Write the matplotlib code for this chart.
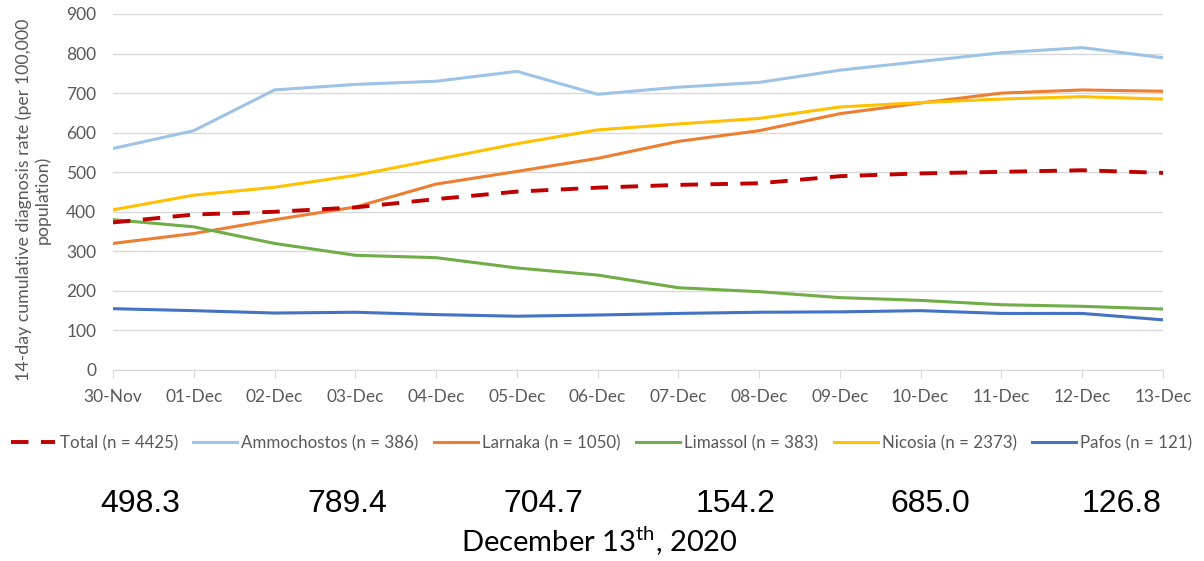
#!/usr/bin/env python3
"""14-day cumulative diagnosis rate per district, Cyprus, 30 Nov - 13 Dec 2020"""
import matplotlib
matplotlib.use("Agg")
import matplotlib.pyplot as plt

dates = ["30-Nov", "01-Dec", "02-Dec", "03-Dec", "04-Dec", "05-Dec", "06-Dec",
         "07-Dec", "08-Dec", "09-Dec", "10-Dec", "11-Dec", "12-Dec", "13-Dec"]

total = [373, 393, 400, 411, 432, 451, 461, 468, 472, 490, 497, 501, 505, 498.3]
ammochostos = [560, 605, 708, 722, 730, 755, 697, 715, 727, 758, 780, 802, 815, 789.4]
larnaka = [320, 345, 380, 412, 470, 502, 535, 578, 605, 648, 675, 700, 708, 704.7]
limassol = [380, 362, 320, 290, 284, 258, 240, 208, 198, 183, 176, 165, 161, 154.2]
nicosia = [405, 442, 462, 492, 532, 572, 607, 622, 636, 665, 676, 685, 691, 685.0]
pafos = [155, 150, 144, 146, 140, 136, 139, 143, 146, 147, 150, 143, 143, 126.8]

labels = ["Total (n = 4425)", "Ammochostos (n = 386)", "Larnaka (n = 1050)",
          "Limassol (n = 383)", "Nicosia (n = 2373)", "Pafos (n = 121)"]
colors = ["#C00000", "#9DC3E6", "#ED7D31", "#70AD47", "#FFC000", "#4472C4"]
series = [total, ammochostos, larnaka, limassol, nicosia, pafos]

GREY = "#595959"
plt.rcParams["font.family"] = ["Lato", "DejaVu Sans"]
plt.rcParams["mathtext.fontset"] = "custom"
plt.rcParams["mathtext.rm"] = "Lato"

W, H = 1204, 561
fig = plt.figure(figsize=(W / 100, H / 100), dpi=100)
ax = fig.add_axes([113 / W, 1 - 370 / H, (1163 - 113) / W, (370 - 14) / H])

x = list(range(len(dates)))
handles = []
for name, col, vals in zip(labels, colors, series):
    if name.startswith("Total"):
        ln, = ax.plot(x, vals, color=col, lw=2.8, dashes=(4.5, 3.2), label=name,
                      zorder=3)
    else:
        ln, = ax.plot(x, vals, color=col, lw=2.2, label=name, zorder=2,
                      solid_joinstyle="miter")
    handles.append(ln)

ax.set_xlim(0, len(dates) - 1)
ax.set_ylim(0, 900)
ax.set_yticks(range(0, 901, 100))
ax.set_xticks(x)
ax.set_xticklabels(dates)
ax.grid(axis="y", color="#d9d9d9", lw=1)
ax.set_axisbelow(True)
for side in ("left", "right", "top"):
    ax.spines[side].set_visible(False)
ax.spines["bottom"].set_color("#d9d9d9")
ax.tick_params(axis="y", length=0, labelsize=12.5, labelcolor=GREY, pad=12)
ax.tick_params(axis="x", length=6, color="#d9d9d9", labelsize=12.5,
               labelcolor=GREY, pad=8)
ax.set_ylabel("14-day cumulative diagnosis rate (per 100,000\npopulation)",
              fontsize=12.8, color=GREY, linespacing=1.2, va="center")
ax.yaxis.set_label_coords((33 - 113) / 1050, (370 - 200) / 356)

fig.legend(handles=handles, loc="center", bbox_to_anchor=(0.5, 1 - 443 / H),
           ncol=6, frameon=False, fontsize=12.2, labelcolor=GREY,
           handlelength=2.6, handletextpad=0.25, columnspacing=0.9)

# latest values, one per series
num_x = [140, 347, 543, 736, 930, 1122]
for px, vals in zip(num_x, series):
    fig.text(px / W, 1 - 504 / H, f"{vals[-1]:.1f}", ha="center", va="center",
             fontsize=23, family="Liberation Sans")

fig.text(599 / W, 1 - 541 / H, r"December 13$^{\mathrm{th}}$, 2020",
         ha="center", va="center", fontsize=21)

fig.savefig("out.png", dpi=100)
plt.close(fig)
